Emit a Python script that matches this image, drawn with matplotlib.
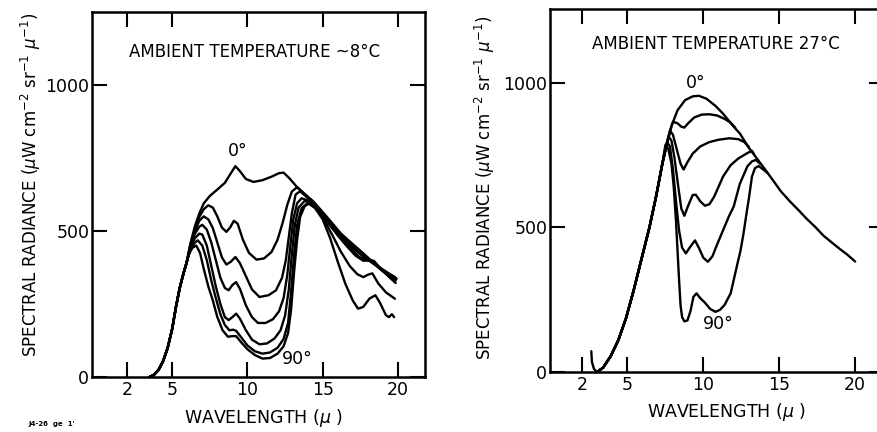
import matplotlib
matplotlib.use("Agg")
import matplotlib.pyplot as plt

# ---------------- data ----------------
# Left panel: ambient temperature ~8 C, seven elevation angles (0 deg top ... 90 deg bottom)
left_rise_x = [3.5, 3.8, 4.1, 4.4, 4.7, 5.0, 5.25, 5.5, 5.75, 5.95]
left_rise_y = [0, 8, 25, 55, 100, 165, 240, 305, 355, 390]

left_0_x = [6.2, 6.5, 6.8, 7.1, 7.5, 8.0, 8.5, 8.9, 9.2, 9.5, 9.9, 10.4, 11.0, 11.6, 12.1, 12.4,
            12.8, 13.2, 13.7, 14.4, 15.0, 15.5, 16.2, 17.0, 17.6, 18.2, 18.8, 19.3, 19.8]
left_0_y = [455, 515, 560, 595, 620, 642, 665, 698, 722, 705, 678, 668, 674, 686, 698, 700,
            680, 656, 630, 600, 565, 535, 492, 455, 428, 400, 375, 358, 342]

left_15_x = [6.2, 6.5, 6.8, 7.1, 7.4, 7.7, 8.0, 8.3, 8.6, 8.85, 9.1, 9.35, 9.7, 10.1, 10.6, 11.1,
             11.6, 12.0, 12.35, 12.65, 12.95, 13.3, 13.7, 14.3, 14.9, 15.5, 16.1, 16.7, 17.3,
             17.9, 18.5, 19.1, 19.5, 19.9]
left_15_y = [450, 505, 548, 575, 588, 580, 550, 512, 497, 512, 535, 525, 470, 425, 402, 406,
             428, 470, 530, 590, 635, 650, 632, 604, 568, 530, 492, 460, 432,
             408, 385, 362, 350, 338]

left_30_x = [6.2, 6.5, 6.8, 7.1, 7.4, 7.7, 8.0, 8.3, 8.6, 8.9, 9.2, 9.5, 9.9, 10.3, 10.8, 11.4,
             11.9, 12.3, 12.55, 12.75, 12.95, 13.2, 13.5, 13.9, 14.5, 15.1, 15.7, 16.3, 16.9,
             17.5, 18.0, 18.5, 19.0, 19.5, 19.9]
left_30_y = [448, 500, 535, 550, 540, 510, 460, 410, 385, 395, 411, 390, 345, 300, 274, 280,
             297, 340, 400, 480, 560, 625, 636, 618, 590, 552, 512, 478, 447,
             420, 402, 383, 362, 346, 335]

left_45_x = [6.2, 6.5, 6.8, 7.0, 7.3, 7.6, 7.9, 8.2, 8.5, 8.75, 9.0, 9.25, 9.5, 9.9, 10.3, 10.7,
             11.2, 11.7, 12.1, 12.4, 12.65, 12.85, 13.05, 13.3, 13.6, 14.0, 14.5, 15.0, 15.6,
             16.2, 16.8, 17.4, 17.9, 18.3, 18.8, 19.3, 19.85]
left_45_y = [445, 490, 515, 521, 505, 460, 400, 340, 305, 297, 315, 325, 302, 245, 205, 185,
             185, 198, 225, 270, 350, 450, 540, 595, 612, 605, 585, 555, 515,
             478, 443, 412, 400, 395, 372, 350, 330]

left_60_x = [6.2, 6.5, 6.8, 7.0, 7.3, 7.6, 7.9, 8.2, 8.5, 8.75, 9.0, 9.25, 9.5, 9.9, 10.3, 10.8,
             11.3, 11.8, 12.2, 12.5, 12.75, 12.95, 13.15, 13.4, 13.8, 14.2, 14.8, 15.4, 16.0,
             16.6, 17.2, 17.7, 18.1, 18.4, 18.9, 19.4, 19.85]
left_60_y = [440, 475, 491, 488, 450, 380, 310, 250, 205, 195, 205, 217, 200, 160, 128, 112,
             115, 132, 160, 210, 300, 420, 520, 580, 603, 598, 565, 525, 485,
             448, 415, 398, 400, 398, 368, 343, 322]

left_75_x = [6.2, 6.5, 6.7, 7.0, 7.3, 7.6, 7.9, 8.2, 8.5, 8.8, 9.05, 9.25, 9.6, 10.0, 10.5, 11.0,
             11.5, 12.0, 12.4, 12.7, 12.9, 13.1, 13.3, 13.6, 14.0, 14.5, 15.0, 15.6, 16.2,
             16.8, 17.3, 17.7, 18.0, 18.3, 18.7, 19.2, 19.8]
left_75_y = [435, 460, 468, 450, 400, 330, 270, 215, 178, 160, 162, 158, 135, 108, 88, 80,
             84, 100, 130, 185, 290, 420, 520, 578, 596, 580, 548, 490, 430,
             380, 352, 342, 350, 355, 320, 290, 268]

left_90_x = [6.1, 6.35, 6.6, 6.85, 7.1, 7.4, 7.7, 8.0, 8.35, 8.7, 9.0, 9.25, 9.6, 10.0, 10.5,
             11.0, 11.5, 12.0, 12.4, 12.7, 12.9, 13.1, 13.3, 13.5, 13.8, 14.1, 14.5, 15.0,
             15.5, 16.0, 16.5, 17.0, 17.35, 17.7, 18.1, 18.5, 18.8, 19.2, 19.4, 19.6, 19.75]
left_90_y = [420, 443, 450, 425, 370, 310, 262, 205, 160, 138, 140, 140, 118, 95, 75,
             63, 65, 80, 105, 150, 230, 360, 470, 548, 585, 594, 578, 540,
             475, 395, 320, 262, 234, 240, 268, 280, 255, 212, 205, 215, 205]

# Right panel: ambient temperature 27 C, six elevation angles
right_0_x = [2.62, 2.66, 2.8, 3.0, 3.4, 3.9, 4.4, 4.9, 5.4, 5.9, 6.45, 6.9, 7.3, 7.6, 7.9, 8.3,
             8.8, 9.3, 9.7, 10.2, 10.8, 11.3, 12.0, 12.4, 13.0, 13.5, 14.0, 14.6, 15.1, 15.7,
             16.3, 16.8, 17.4, 17.9, 18.5, 19.0, 19.5, 20.0]
right_0_y = [72, 35, 10, 0, 15, 55, 110, 185, 280, 385, 500, 610, 720, 790, 850, 905,
             940, 953, 955, 945, 920, 893, 848, 825, 775, 740, 705, 662, 625, 590,
             558, 530, 500, 472, 446, 425, 405, 382]

right_15_x = [7.9, 8.0, 8.3, 8.55, 8.75, 9.0, 9.4, 9.9, 10.4, 10.9, 11.4, 11.8, 12.1]
right_15_y = [850, 865, 860, 848, 845, 860, 880, 890, 891, 887, 875, 862, 845]

right_30_x = [7.8, 8.0, 8.25, 8.5, 8.7, 8.95, 9.3, 9.8, 10.4, 11.0, 11.7, 12.3, 12.7, 13.0]
right_30_y = [835, 820, 770, 720, 700, 725, 755, 780, 795, 803, 808, 805, 795, 778]

right_45_x = [7.7, 7.9, 8.1, 8.35, 8.55, 8.75, 9.0, 9.3, 9.5, 9.8, 10.1, 10.4, 10.7, 11.0,
              11.3, 11.8, 12.3, 12.9, 13.2, 13.35]
right_45_y = [815, 800, 740, 640, 565, 540, 575, 612, 613, 590, 575, 580, 605, 640,
              676, 715, 738, 757, 765, 752]

right_60_x = [7.6, 7.8, 8.0, 8.2, 8.4, 8.6, 8.85, 9.1, 9.45, 9.7, 10.0, 10.3, 10.6, 10.9,
              11.3, 11.7, 12.0, 12.4, 12.9, 13.2, 13.45, 13.75]
right_60_y = [795, 780, 700, 590, 490, 430, 410, 430, 455, 430, 395, 381, 400, 440,
              490, 540, 572, 650, 711, 728, 733, 720]

right_90_x = [7.5, 7.7, 7.9, 8.05, 8.2, 8.3, 8.4, 8.5, 8.6, 8.75, 8.95, 9.15, 9.35, 9.55,
              9.8, 10.1, 10.45, 10.8, 11.1, 11.4, 11.8, 12.2, 12.45, 12.65, 12.85, 13.0,
              13.2, 13.4, 13.65, 13.95, 14.25]
right_90_y = [785, 770, 720, 640, 520, 420, 320, 230, 190, 175, 178, 210, 260, 272,
              255, 240, 218, 208, 215, 232, 272, 364, 420, 480, 550, 600,
              675, 705, 712, 700, 687]

x_ticks = [2, 5, 10, 15, 20]
y_ticks = [0, 500, 1000]
y_tick_labels = ["0", "500", "1000"]

left_title = "AMBIENT TEMPERATURE ~8°C"
right_title = "AMBIENT TEMPERATURE 27°C"
y_label = r"SPECTRAL RADIANCE ($\mu$W cm$^{-2}$ sr$^{-1}$ $\mu^{-1}$)"
x_label = r"WAVELENGTH ($\mu$ )"

# ---------------- drawing ----------------
plt.rcParams['font.family'] = ['DejaVu Sans']
plt.rcParams['mathtext.fontset'] = 'dejavusans'

W, H = 877, 432
fig = plt.figure(figsize=(W / 100, H / 100), dpi=100)
fig.patch.set_facecolor('white')


def px_axes(x0, x1, y_top, y_bot):
    return fig.add_axes([x0 / W, 1 - y_bot / H, (x1 - x0) / W, (y_bot - y_top) / H])


axL = px_axes(92, 425, 12, 377)
axR = px_axes(550, 884, 9, 372)

lw = 1.7
style = dict(color='black', lw=lw, solid_joinstyle='round', solid_capstyle='round')

left_curves = [
    (left_0_x, left_0_y), (left_15_x, left_15_y), (left_30_x, left_30_y),
    (left_45_x, left_45_y), (left_60_x, left_60_y), (left_75_x, left_75_y),
    (left_90_x, left_90_y),
]
for cx, cy in left_curves:
    axL.plot(left_rise_x + cx, left_rise_y + cy, **style)

right_curves = [
    (right_15_x, right_15_y), (right_30_x, right_30_y), (right_45_x, right_45_y),
    (right_60_x, right_60_y), (right_90_x, right_90_y),
]
axR.plot(right_0_x, right_0_y, **style)
rise_x = [x for x in right_0_x if x >= 3.0]
rise_y = [y for x, y in zip(right_0_x, right_0_y) if x >= 3.0]
for cx, cy in right_curves:
    px = [x for x in rise_x if x < cx[0]] + cx
    py = [y for x, y in zip(rise_x, rise_y) if x < cx[0]] + cy
    axR.plot(px, py, **style)

axL.set_xlim(-0.33, 21.8)
axL.set_ylim(0, 1250)
axR.set_xlim(-0.1, 21.9)
axR.set_ylim(0, 1255)

for ax in (axL, axR):
    ax.set_xticks(x_ticks)
    ax.set_yticks(y_ticks)
    ax.set_yticklabels(y_tick_labels)
    ax.tick_params(axis='both', which='major', direction='in', length=11, width=1.5,
                   labelsize=12.5, top=True, right=True, colors='black')
    ax.tick_params(axis='x', pad=3)
    ax.tick_params(axis='y', pad=2)
    for s in ax.spines.values():
        s.set_linewidth(1.8)
        s.set_color('black')
    ax.set_facecolor('white')

axL.text(10.5, 1113, left_title, ha='center', va='center', fontsize=12)
axR.text(10.8, 1135, right_title, ha='center', va='center', fontsize=12)

axL.text(9.35, 775, "0°", ha='center', va='center', fontsize=12.5)
axL.text(13.3, 63, "90°", ha='center', va='center', fontsize=12.5)
axR.text(9.5, 1000, "0°", ha='center', va='center', fontsize=12.5)
axR.text(11.0, 165, "90°", ha='center', va='center', fontsize=12.5)

fig.text(31 / W, 1 - 185 / H, y_label, rotation=90, ha='center', va='center', fontsize=12)
fig.text(485 / W, 1 - 188 / H, y_label, rotation=90, ha='center', va='center', fontsize=12)
fig.text(263 / W, 1 - 418 / H, x_label, ha='center', va='center', fontsize=12.5)
fig.text(726 / W, 1 - 412 / H, x_label, ha='center', va='center', fontsize=12.5)

fig.text(28 / W, 1 - 424 / H, "J4-26  ge  1'", ha='left', va='center', fontsize=5,
         weight='bold')

fig.savefig("out.png", dpi=100, facecolor='white')
